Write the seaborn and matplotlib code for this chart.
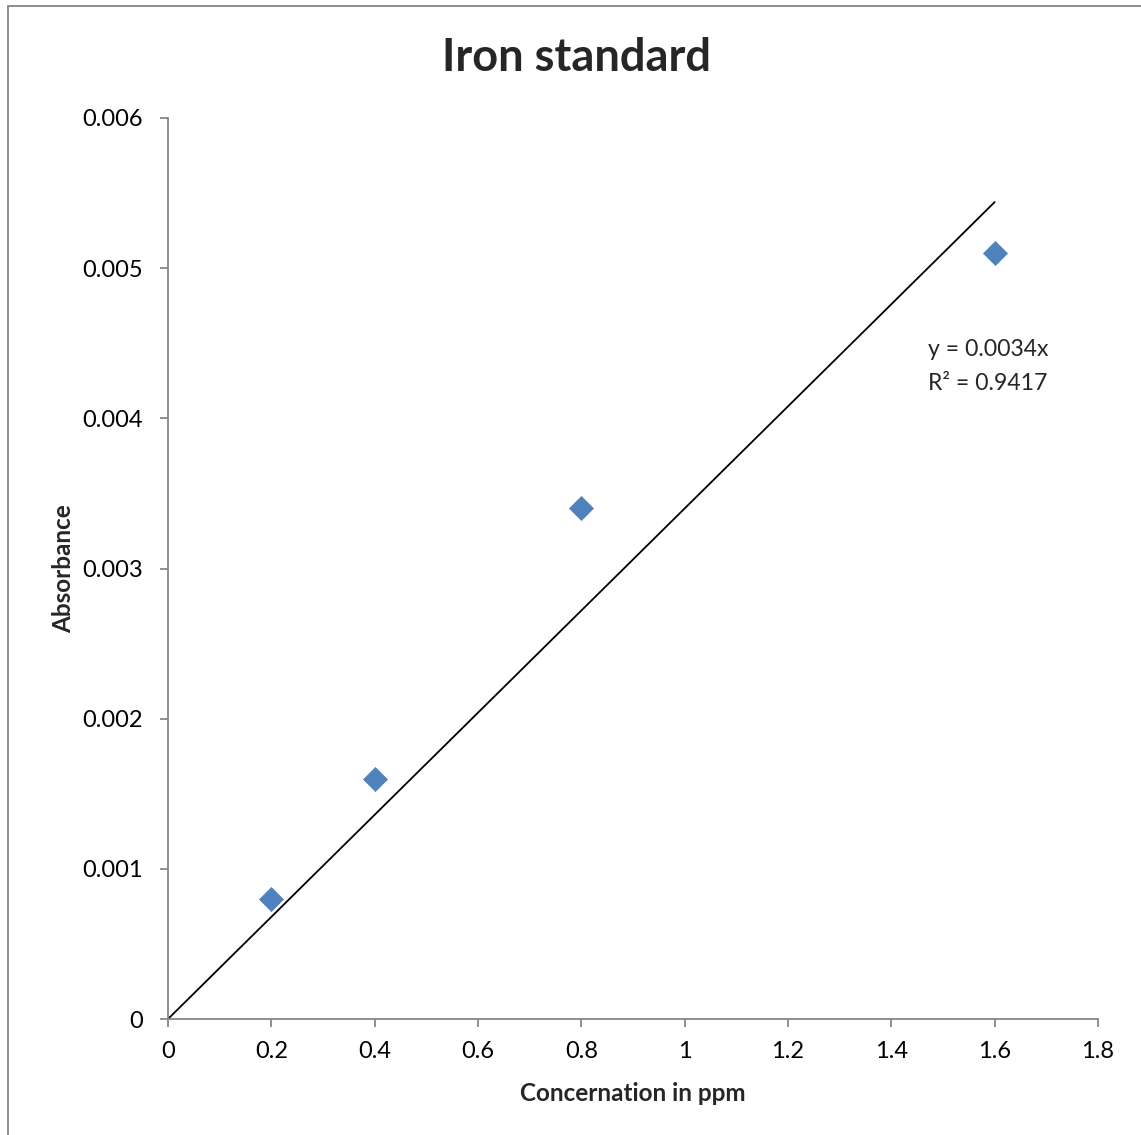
import matplotlib
matplotlib.use("Agg")
import matplotlib.pyplot as plt
import matplotlib.patches as mpatches
import numpy as np
import pandas as pd
import seaborn as sns

# Iron standard calibration data
concentration = [0.2, 0.4, 0.8, 1.6]
absorbance = [0.0008, 0.0016, 0.0034, 0.0051]
slope = 0.0034
r_squared = 0.9417
x_ticks = [0, 0.2, 0.4, 0.6, 0.8, 1, 1.2, 1.4, 1.6, 1.8]
y_ticks = [0, 0.001, 0.002, 0.003, 0.004, 0.005, 0.006]

sns.set_theme(style="white")
plt.rcParams["font.family"] = ["Lato", "DejaVu Sans"]

df = pd.DataFrame({"Concentration": concentration, "Absorbance": absorbance})

fig = plt.figure(figsize=(11.41, 11.35), dpi=100)
ax = fig.add_axes([168 / 1141, 1 - 1019 / 1135, 930 / 1141, 901 / 1135])

# Trendline through the origin
fit_x = np.array([0, max(concentration)])
ax.plot(fit_x, slope * fit_x, color="black", lw=1.3, zorder=2)

sns.scatterplot(data=df, x="Concentration", y="Absorbance", ax=ax,
                marker="D", s=150, color="#4F81BD", edgecolor="#4F81BD",
                linewidth=0.5, zorder=3, legend=False)

ax.set_xlim(0, 1.8)
ax.set_ylim(0, 0.006)
ax.set_xticks(x_ticks)
ax.set_xticklabels([f"{v:g}" for v in x_ticks])
ax.set_yticks(y_ticks)
ax.set_yticklabels([f"{v:g}" if v else "0" for v in y_ticks])

for side in ["top", "right"]:
    ax.spines[side].set_visible(False)
for side in ["left", "bottom"]:
    ax.spines[side].set_color("#868686")
    ax.spines[side].set_linewidth(1.3)
ax.tick_params(axis="both", which="major", direction="out", length=6,
               width=1.3, color="#868686", labelsize=17, labelcolor="black",
               left=True, bottom=True)
ax.tick_params(axis="x", pad=10)
ax.tick_params(axis="y", pad=12)

ax.set_xlabel("Concernation in ppm", fontsize=17.5, fontweight="bold", labelpad=14)
ax.set_ylabel("Absorbance", fontsize=17.5, fontweight="bold", labelpad=5)

fig.text(576 / 1141, 1 - 58 / 1135, "Iron standard", fontsize=32.5,
         fontweight="bold", ha="center", va="center")

ax.text(928 / 1141, 1 - 350 / 1135, "y = 0.0034x", transform=fig.transFigure,
        fontsize=16.6, ha="left", va="center")
ax.text(928 / 1141, 1 - 383 / 1135, "R² = 0.9417", transform=fig.transFigure,
        fontsize=16.6, ha="left", va="center")

# Chart frame
frame = mpatches.Rectangle((8 / 1141, -0.1), 1.2, 1 - 6 / 1135 + 0.1,
                           transform=fig.transFigure, fill=False,
                           edgecolor="#868686", lw=1.3)
fig.patches.append(frame)

fig.savefig("out.png", dpi=100)
